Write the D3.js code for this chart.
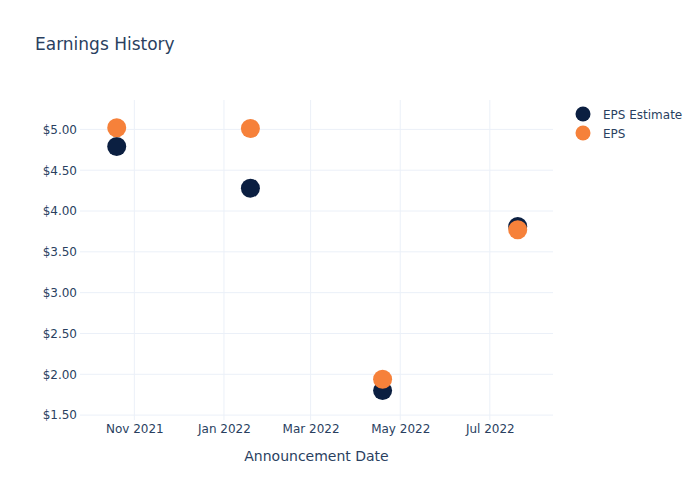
<!DOCTYPE html>
<html>
<head>
<meta charset="utf-8">
<script src="https://cdn.jsdelivr.net/npm/d3@7"></script>
<style>
body { margin: 0; background: #fff; }
svg { font-family: "DejaVu Sans", sans-serif; }
</style>
</head>
<body>
<svg id="chart" width="700" height="500"></svg>
<script>
const dates = ["2021-10-20", "2022-01-19", "2022-04-19", "2022-07-20"];
const epsEstimate = [4.79, 4.28, 1.80, 3.81];
const eps = [5.02, 5.01, 1.94, 3.77];
const yTicks = [1.5, 2.0, 2.5, 3.0, 3.5, 4.0, 4.5, 5.0];
const xTicks = ["2021-11-01", "2022-01-01", "2022-03-01", "2022-05-01", "2022-07-01"];
const seriesNames = ["EPS Estimate", "EPS"];
const colors = ["#0b1f41", "#f6813a"];

const parse = d3.utcParse("%Y-%m-%d");
const svg = d3.select("#chart");
const L = 80, R = 553, T = 100, B = 420;
const FONT = '"DejaVu Sans", sans-serif';

const x = d3.scaleUtc().domain([parse("2021-09-25"), parse("2022-08-13")]).range([L, R]);
const y = d3.scaleLinear().domain([1.44, 5.36]).range([B, T]);
const textColor = "#2a3f5f";
const gridColor = "#ebf0f8";

// grid
svg.append("g").selectAll("line").data(yTicks).join("line")
  .attr("x1", L).attr("x2", R)
  .attr("y1", d => y(d)).attr("y2", d => y(d))
  .attr("stroke", gridColor).attr("stroke-width", 1);
svg.append("g").selectAll("line").data(xTicks).join("line")
  .attr("x1", d => x(parse(d))).attr("x2", d => x(parse(d)))
  .attr("y1", T).attr("y2", B)
  .attr("stroke", gridColor).attr("stroke-width", 1);

// y axis
const yAxis = d3.axisLeft(y).tickValues(yTicks).tickFormat(d => "$" + d3.format(".2f")(d)).tickSize(0).tickPadding(3);
const gy = svg.append("g").attr("transform", `translate(${L},0)`).call(yAxis);
gy.select(".domain").remove();
gy.selectAll("text").attr("fill", textColor).style("font-size", "12px").style("font-family", FONT);

// x axis
const xAxis = d3.axisBottom(x).tickValues(xTicks.map(parse)).tickFormat(d3.utcFormat("%b %Y")).tickSize(0).tickPadding(4);
const gx = svg.append("g").attr("transform", `translate(0,${B})`).call(xAxis);
gx.select(".domain").remove();
gx.selectAll("text").attr("fill", textColor).style("font-size", "12px").style("font-family", FONT);

// axis title
svg.append("text").attr("x", (L + R) / 2).attr("y", 461).attr("text-anchor", "middle")
  .attr("fill", textColor).style("font-size", "14px").text("Announcement Date");

// title
svg.append("text").attr("x", 35).attr("y", 50).attr("fill", textColor)
  .style("font-size", "17px").text("Earnings History");

// points
const series = [epsEstimate, eps];
series.forEach((vals, si) => {
  svg.append("g").selectAll("circle").data(vals).join("circle")
    .attr("cx", (d, i) => x(parse(dates[i])))
    .attr("cy", d => y(d))
    .attr("r", 9.5)
    .attr("fill", colors[si]);
});

// legend
const lg = svg.append("g");
seriesNames.forEach((name, i) => {
  const yy = 114 + i * 19;
  lg.append("circle").attr("cx", 583).attr("cy", yy).attr("r", 7.5).attr("fill", colors[i]);
  lg.append("text").attr("x", 603).attr("y", yy + 4.5).attr("fill", textColor)
    .style("font-size", "12px").text(name);
});
</script>
</body>
</html>
